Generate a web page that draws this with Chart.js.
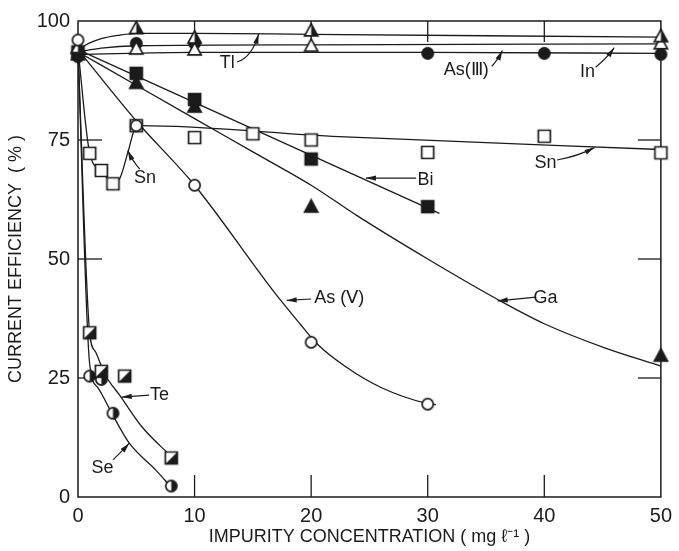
<!DOCTYPE html>
<html>
<head>
<meta charset="utf-8">
<script src="https://cdn.jsdelivr.net/npm/chart.js@4/dist/chart.umd.min.js"></script>
<style>
  html, body { margin: 0; padding: 0; background: #fff; }
  #wrap { width: 679px; height: 551px; }
</style>
</head>
<body>
<div id="wrap"><canvas id="c" width="679" height="551"></canvas></div>
<script>
// Axis ticks
const xTickValues = [0, 10, 20, 30, 40, 50];
const yTickValues = [0, 25, 50, 75, 100];

// Measured current efficiency (%) vs impurity concentration (mg/l)
const tlPoints   = [[0, 94.5], [5, 98.5], [10, 96.5], [20, 98], [50, 96.8]];
const inPoints   = [[0, 94.3], [5, 94.2], [10, 94], [20, 94.8], [50, 95.3]];
const as3Points  = [[0, 92.5], [5, 95.3], [10, 95.3], [30, 93.2], [40, 93.2], [50, 93]];
const biPoints   = [[0, 93.5], [5, 89], [10, 83.5], [20, 71], [30, 61]];
const gaPoints   = [[0, 93], [5, 87], [10, 82], [20, 61], [50, 29.7]];
const as5Points  = [[0, 96], [5, 78], [10, 65.5], [20, 32.5], [30, 19.5]];
const snPoints   = [[1, 72.2], [2, 68.6], [3, 65.8], [5, 78], [10, 75.5], [15, 76.3], [20, 75], [30, 72.4], [40, 75.8], [50, 72.3]];
const tePoints   = [[1, 34.5], [2, 26.4], [4, 25.4], [8, 8.2]];
const sePoints   = [[1, 25.4], [2, 24.7], [3, 17.6], [8, 2.3]];

// Hand-drawn trend curves through each impurity's results
const tlCurve  = [[0, 94], [1, 95.4], [2, 96.3], [3.5, 97], [5, 97.4], [10, 97.4], [20, 97.2], [50, 96.6]];
const inCurve  = [[0, 93.5], [2, 94.3], [5, 94.8], [20, 95], [50, 95.2]];
const as3Curve = [[0, 93], [10, 93.4], [30, 93.4], [50, 93.2]];
const biCurve  = [[0, 94], [31, 59.6]];
const gaCurve  = [[0, 93.5], [5, 86.5], [10, 79.5], [15, 72.5], [20, 65.5], [24, 59], [30, 50], [36, 41.5], [40, 36.4], [45, 31.5], [50, 27.5]];
const as5Curve = [[0, 94], [5, 79], [10, 65.5], [17, 42.5], [19, 36.5], [20.5, 32.2], [23, 27.3], [26, 23], [30, 19.6], [30.7, 19.4]];
const snCurve  = [[0, 94], [1, 72.3], [2, 68.6], [3, 66], [3.6, 67], [4.3, 72.6], [4.9, 77.5], [5.3, 78], [22.4, 75.7], [50, 73]];
const teCurve  = [[0, 94], [1, 34.5], [1.5, 30.5], [2.3, 25.8], [3.6, 21.3], [5.5, 14.7], [8, 8.5]];
const seCurve  = [[0, 94], [1, 28], [1.7, 23], [2.9, 17.6], [4.4, 11.3], [6.7, 5.6], [7.9, 2.3]];

// Curve labels: text centre, arrow start, optional bend, arrow tip (data units)
const curveLabels = [
  { text: 'Tl',     at: [12.8, 91.2], from: [13.65, 91.4], bend: [14.9, 92.3], to: [15.5, 97.3] },
  { text: 'As(Ⅲ)',  at: [33.3, 89.7], from: [35.5, 90.5],  bend: [36.0, 91.8], to: [36.4, 93.8] },
  { text: 'In',     at: [43.7, 89.3], from: [44.4, 90.3],  bend: [45.3, 92.0], to: [46.0, 94.4] },
  { text: 'Sn',     at: [5.75, 67.0], from: [5.3, 68.9],   bend: [4.7, 70.5],  to: [4.27, 72.8] },
  { text: 'Sn',     at: [40.1, 70.2], from: [41.1, 70.8],  bend: [42.9, 71.6], to: [44.3, 73.4] },
  { text: 'Bi',     at: [29.8, 66.6], from: [29.0, 67.0],  bend: null,         to: [24.7, 67.0] },
  { text: 'Ga',     at: [40.1, 41.8], from: [39.3, 42.0],  bend: null,         to: [36.0, 41.2] },
  { text: 'As (Ⅴ)', at: [22.4, 41.8], from: [20.0, 41.6],  bend: null,         to: [17.9, 41.3] },
  { text: 'Te',     at: [7.0, 21.4],  from: [6.1, 21.4],   bend: null,         to: [3.75, 21.0] },
  { text: 'Se',     at: [2.1, 6.1],   from: [3.0, 7.8],    bend: [3.7, 9.4],   to: [4.4, 11.3] }
];

const INK = '#1b1b1b';
const FONT = '"Liberation Sans", Arial, sans-serif';

function pts(arr) { return arr.map(([x, y]) => ({ x, y })); }

// Small canvas glyphs for the plotting symbols
function makeMarker(shape, fill) {
  const size = 17, m = size / 2;
  const c = document.createElement('canvas');
  c.width = size; c.height = size;
  const g = c.getContext('2d');
  const path = () => {
    g.beginPath();
    if (shape === 'circle') g.arc(m, m, 5.6, 0, Math.PI * 2);
    else if (shape === 'square') g.rect(m - 6, m - 6, 12, 12);
    else { g.moveTo(m, m - 6.8); g.lineTo(m + 6.6, m + 5.4); g.lineTo(m - 6.6, m + 5.4); g.closePath(); }
  };
  path();
  g.fillStyle = fill === 'full' ? INK : '#fff';
  g.fill();
  if (fill === 'half') {
    g.save(); path(); g.clip();
    g.beginPath();
    if (shape === 'square') { g.moveTo(m + 8, m - 8); g.lineTo(m + 8, m + 8); g.lineTo(m - 8, m + 8); g.closePath(); }
    else g.rect(m, 0, size, size);
    g.fillStyle = INK; g.fill(); g.restore();
  }
  path();
  g.lineWidth = 1.7; g.strokeStyle = INK; g.stroke();
  return c;
}

const curve = (data) => ({
  type: 'line', data: pts(data), showLine: true, borderColor: INK, borderWidth: 1.3,
  pointRadius: 0, cubicInterpolationMode: 'monotone', fill: false, clip: false, order: 50
});
const marks = (data, style, order) => ({
  type: 'scatter', data: pts(data), showLine: false, pointStyle: style,
  pointRadius: 6, clip: false, order
});

// Frame with inward tick marks
const framePlugin = {
  id: 'frame',
  beforeDatasetsDraw(chart) {
    const { ctx, chartArea: a, scales: { x, y } } = chart;
    const seg = (x1, y1, x2, y2) => { ctx.beginPath(); ctx.moveTo(x1, y1); ctx.lineTo(x2, y2); ctx.stroke(); };
    ctx.save();
    ctx.strokeStyle = INK;
    ctx.lineWidth = 1.5;
    ctx.strokeRect(a.left, a.top, a.right - a.left, a.bottom - a.top);
    ctx.lineWidth = 1.3;
    xTickValues.slice(1, -1).forEach(v => {
      const px = x.getPixelForValue(v);
      seg(px, a.bottom, px, a.bottom - 22);
      seg(px, a.top, px, a.top + 21);
    });
    yTickValues.slice(1, -1).forEach(v => {
      const py = y.getPixelForValue(v);
      seg(a.left, py, a.left + 24, py);
      seg(a.right, py, a.right - 23, py);
    });
    ctx.restore();
  }
};

// Curve names with pointer arrows
const labelPlugin = {
  id: 'curveLabels',
  afterDatasetsDraw(chart) {
    const { ctx, scales: { x, y } } = chart;
    const P = ([u, v]) => [x.getPixelForValue(u), y.getPixelForValue(v)];
    ctx.save();
    ctx.strokeStyle = INK; ctx.fillStyle = INK; ctx.lineWidth = 1.2;
    curveLabels.forEach(l => {
      const [fx, fy] = P(l.from), [tx, ty] = P(l.to);
      const b = l.bend ? P(l.bend) : null;
      ctx.beginPath();
      ctx.moveTo(fx, fy);
      if (b) ctx.quadraticCurveTo(b[0], b[1], tx, ty); else ctx.lineTo(tx, ty);
      ctx.stroke();
      const [ox, oy] = b || [fx, fy];
      const ang = Math.atan2(ty - oy, tx - ox);
      const len = 10, hw = 2.6;
      ctx.beginPath();
      ctx.moveTo(tx, ty);
      ctx.lineTo(tx - len * Math.cos(ang) + hw * Math.sin(ang), ty - len * Math.sin(ang) - hw * Math.cos(ang));
      ctx.lineTo(tx - len * Math.cos(ang) - hw * Math.sin(ang), ty - len * Math.sin(ang) + hw * Math.cos(ang));
      ctx.closePath(); ctx.fill();
      const [cx, cy] = P(l.at);
      ctx.font = '18px ' + FONT;
      ctx.textAlign = 'center'; ctx.textBaseline = 'middle';
      ctx.fillText(l.text, cx, cy);
    });
    ctx.restore();
  }
};

const tickFont = { family: FONT, size: 20 };
const titleFont = { family: FONT, size: 18 };

new Chart(document.getElementById('c'), {
  type: 'scatter',
  data: {
    datasets: [
      marks(as5Points, makeMarker('circle', 'open'), 1),
      marks(snPoints, makeMarker('square', 'open'), 2),
      marks(tlPoints, makeMarker('triangle', 'half'), 3),
      marks(inPoints, makeMarker('triangle', 'open'), 4),
      marks(as3Points, makeMarker('circle', 'full'), 5),
      marks(biPoints, makeMarker('square', 'full'), 6),
      marks(gaPoints, makeMarker('triangle', 'full'), 7),
      marks(tePoints, makeMarker('square', 'half'), 8),
      marks(sePoints, makeMarker('circle', 'half'), 9),
      curve(tlCurve), curve(inCurve), curve(as3Curve), curve(biCurve), curve(gaCurve),
      curve(as5Curve), curve(snCurve), curve(teCurve), curve(seCurve)
    ]
  },
  options: {
    responsive: false,
    animation: false,
    devicePixelRatio: 1,
    layout: { padding: { top: 21, right: 15, left: 0, bottom: 0 } },
    plugins: { legend: { display: false }, tooltip: { enabled: false } },
    scales: {
      x: {
        type: 'linear', min: 0, max: 50,
        afterBuildTicks: s => { s.ticks = xTickValues.map(v => ({ value: v })); },
        afterFit: s => { s.height = 54; },
        grid: { display: false, drawTicks: false },
        border: { display: false },
        ticks: { font: tickFont, color: INK, padding: 7, maxRotation: 0, autoSkip: false },
        title: { display: true, text: 'IMPURITY CONCENTRATION ( mg ℓ⁻¹ )', font: titleFont, color: INK, padding: { top: 0, bottom: 3 } }
      },
      y: {
        type: 'linear', min: 0, max: 100,
        afterBuildTicks: s => { s.ticks = yTickValues.map(v => ({ value: v })); },
        afterFit: s => { s.width = 78; },
        grid: { display: false, drawTicks: false },
        border: { display: false },
        ticks: { font: tickFont, color: INK, padding: 8, autoSkip: false },
        title: { display: true, text: 'CURRENT EFFICIENCY  ( % )', font: titleFont, color: INK, padding: { top: 5, bottom: 0 } }
      }
    }
  },
  plugins: [framePlugin, labelPlugin]
});
</script>
</body>
</html>
